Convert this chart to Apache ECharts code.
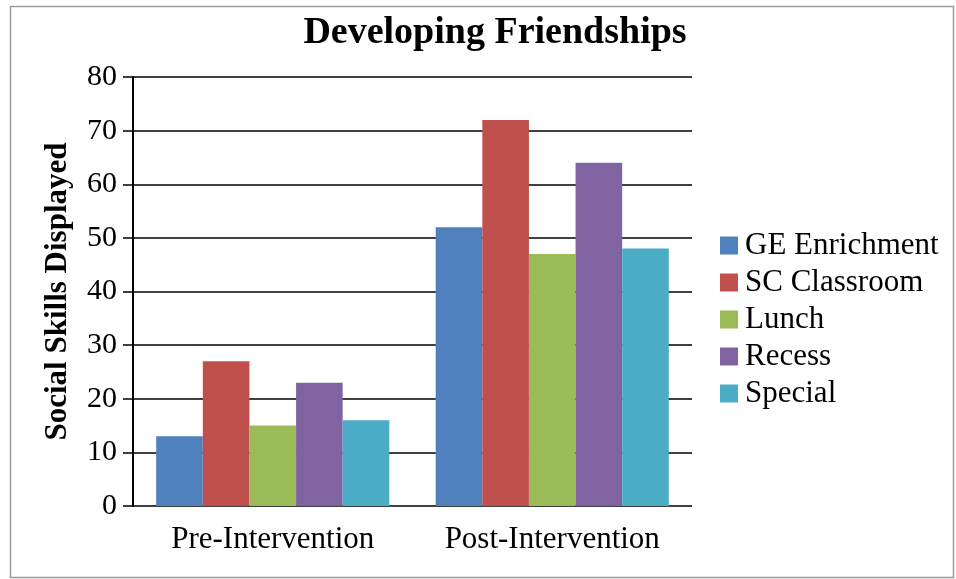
<!DOCTYPE html>
<html>
<head>
<meta charset="utf-8">
<script src="https://cdn.jsdelivr.net/npm/echarts@6/dist/echarts.min.js"></script>
<style>
  html, body { margin: 0; padding: 0; background: #fff; }
  #chart { width: 956px; height: 579px; }
</style>
</head>
<body>
<div id="chart"></div>
<script>
// data
const categories = ['Pre-Intervention', 'Post-Intervention']
const seriesNames = ['GE Enrichment', 'SC Classroom', 'Lunch', 'Recess', 'Special']
const geEnrichment = [13, 52]
const scClassroom = [27, 72]
const lunch = [15, 47]
const recess = [23, 64]
const special = [16, 48]
const yTicks = [0, 10, 20, 30, 40, 50, 60, 70, 80]

const values = [geEnrichment, scClassroom, lunch, recess, special]
const colors = ['#4F81BD', '#C0504D', '#9BBB59', '#8064A2', '#4BACC6']
const font = "'Liberation Serif', 'Times New Roman', serif"

const mychart = echarts.init(document.getElementById('chart'))
mychart.setOption({
  animation: false,
  textStyle: { fontFamily: font, color: '#000' },
  title: {
    text: 'Developing Friendships',
    left: 490,
    textAlign: 'center',
    top: 9,
    textStyle: { fontFamily: font, fontSize: 38, fontWeight: 'bold', color: '#000' }
  },
  graphic: [
    {
      type: 'rect',
      shape: { x: 10.5, y: 6.5, width: 943, height: 571 },
      style: { fill: 'none', stroke: '#9a9a9a', lineWidth: 1.5 },
      silent: true
    }
  ],
  legend: {
    orient: 'vertical',
    left: 715,
    top: 225,
    itemWidth: 18,
    itemHeight: 18,
    itemGap: 6,
    icon: 'rect',
    textStyle: { fontFamily: font, fontSize: 31, color: '#000', padding: [0, 0, 0, 2] },
    data: seriesNames
  },
  grid: {
    left: 133,
    right: 264,
    top: 77,
    bottom: 73,
    containLabel: false
  },
  xAxis: {
    type: 'category',
    data: categories,
    axisLine: { show: false },
    axisTick: { show: false },
    axisLabel: { fontFamily: font, fontSize: 31, color: '#000', margin: 18, interval: 0, hideOverlap: false }
  },
  yAxis: {
    type: 'value',
    min: yTicks[0],
    max: yTicks[yTicks.length - 1],
    interval: 10,
    name: 'Social Skills Displayed',
    nameLocation: 'middle',
    nameGap: 60,
    nameTextStyle: { fontFamily: font, fontSize: 31, fontWeight: 'bold', color: '#000' },
    axisLine: { show: true, lineStyle: { color: '#000', width: 2 } },
    axisTick: { show: true, length: 10, lineStyle: { color: '#000', width: 1.5 } },
    axisLabel: { fontFamily: font, fontSize: 30, color: '#000', margin: 16 },
    splitLine: { show: true, lineStyle: { color: '#000', width: 1.5 } }
  },
  series: seriesNames.map((name, i) => ({
    name: name,
    type: 'bar',
    data: values[i],
    barGap: '0%',
    barCategoryGap: '16.6%',
    itemStyle: { color: colors[i] }
  }))
})
</script>
</body>
</html>
